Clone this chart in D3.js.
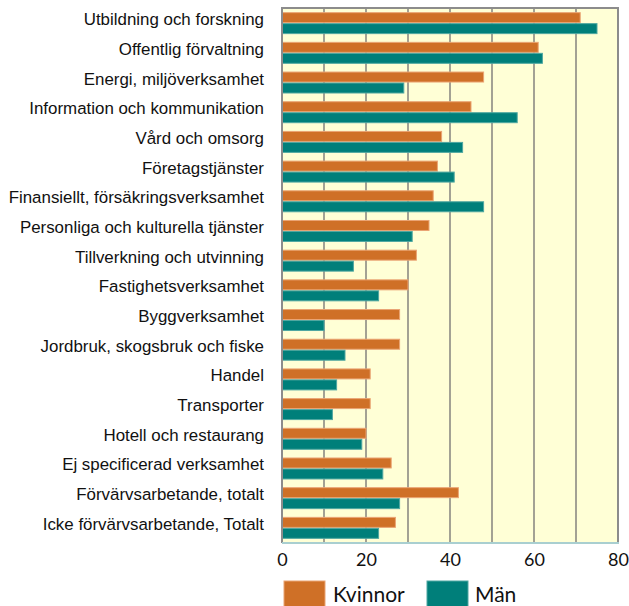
<!DOCTYPE html>
<html>
<head>
<meta charset="utf-8">
<script src="https://cdn.jsdelivr.net/npm/d3@7/dist/d3.min.js"></script>
<style>
  html, body { margin: 0; padding: 0; background: #ffffff; }
  svg { display: block; }
</style>
</head>
<body>
<svg id="chart" width="629" height="606"></svg>
<script>
// Share (%) per branch, women and men
const categories = [
  "Utbildning och forskning",
  "Offentlig förvaltning",
  "Energi, miljöverksamhet",
  "Information och kommunikation",
  "Vård och omsorg",
  "Företagstjänster",
  "Finansiellt, försäkringsverksamhet",
  "Personliga och kulturella tjänster",
  "Tillverkning och utvinning",
  "Fastighetsverksamhet",
  "Byggverksamhet",
  "Jordbruk, skogsbruk och fiske",
  "Handel",
  "Transporter",
  "Hotell och restaurang",
  "Ej specificerad verksamhet",
  "Förvärvsarbetande, totalt",
  "Icke förvärvsarbetande, Totalt"
];
const kvinnor = [71, 61, 48, 45, 38, 37, 36, 35, 32, 30, 28, 28, 21, 21, 20, 26, 42, 27];
const man     = [75, 62, 29, 56, 43, 41, 48, 31, 17, 23, 10, 15, 13, 12, 19, 24, 28, 23];
const seriesNames = ["Kvinnor", "Män"];
const xTicks = [0, 20, 40, 60, 80];
const gridValues = [10, 20, 30, 40, 50, 60, 70];

const colors = { Kvinnor: "#cf7027", "Män": "#007f7a" };
const edges  = { Kvinnor: "#eaa474", "Män": "#4fa7a1" };

const svg = d3.select("#chart");
const plot = { left: 282, right: 618, top: 8, bottom: 543 };

const x = d3.scaleLinear().domain([0, 80]).range([plot.left, plot.right]);
const y = d3.scaleBand().domain(categories).range([plot.top, plot.bottom])
  .paddingInner(0.26).paddingOuter(0.14);
const ySub = d3.scaleBand().domain(seriesNames).range([0, y.bandwidth()]);

// Plot background
svg.append("rect")
  .attr("x", plot.left).attr("y", plot.top)
  .attr("width", plot.right - plot.left).attr("height", plot.bottom - plot.top)
  .attr("fill", "#ffffd6");

// Vertical grid lines
svg.append("g").selectAll("line").data(gridValues).join("line")
  .attr("x1", d => x(d)).attr("x2", d => x(d))
  .attr("y1", plot.top).attr("y2", plot.bottom)
  .attr("stroke", "#a3a294").attr("stroke-width", 2);

// Bars
const rows = categories.map((c, i) => ({ c, values: [
  { s: "Kvinnor", v: kvinnor[i] }, { s: "Män", v: man[i] }
]}));

const groups = svg.append("g").selectAll("g").data(rows).join("g")
  .attr("transform", d => `translate(0,${y(d.c)})`);

groups.selectAll("rect").data(d => d.values).join("rect")
  .attr("x", x(0) + 0.5)
  .attr("y", d => ySub(d.s) + 0.5)
  .attr("width", d => x(d.v) - x(0) - 0.5)
  .attr("height", ySub.bandwidth() - 1)
  .attr("fill", d => colors[d.s])
  .attr("stroke", d => edges[d.s])
  .attr("stroke-width", 1);

// Frame: gray on left, top, right; pale blue along the bottom
svg.append("path")
  .attr("d", `M${plot.left},${plot.bottom} V${plot.top} H${plot.right} V${plot.bottom}`)
  .attr("fill", "none").attr("stroke", "#8c8c8c").attr("stroke-width", 2);
svg.append("line")
  .attr("x1", plot.left).attr("x2", plot.right + 1)
  .attr("y1", plot.bottom).attr("y2", plot.bottom)
  .attr("stroke", "#a9cfd0").attr("stroke-width", 2);

// Category labels
svg.append("g").selectAll("text").data(categories).join("text")
  .attr("x", 264)
  .attr("y", d => y(d) + y.bandwidth() / 2 + 2)
  .attr("text-anchor", "end")
  .style("font-family", "'Liberation Sans', Arial, sans-serif")
  .style("font-size", "16.9px")
  .attr("fill", "#111")
  .text(d => d);

// X axis tick labels
const xAxis = d3.axisBottom(x).tickValues(xTicks).tickSize(0).tickPadding(10);
const ax = svg.append("g").attr("transform", `translate(0,${plot.bottom})`).call(xAxis);
ax.select(".domain").remove();
ax.selectAll("text")
  .attr("font-family", "Lato, sans-serif")
  .attr("font-size", 18)
  .attr("fill", "#111");

// Legend
const legend = svg.append("g");
const legendItems = [
  { s: "Kvinnor", rx: 284, tx: 333 },
  { s: "Män", rx: 427, tx: 475 }
];
legend.selectAll("rect").data(legendItems).join("rect")
  .attr("x", d => d.rx).attr("y", 581)
  .attr("width", 41).attr("height", 30)
  .attr("fill", d => colors[d.s])
  .attr("stroke", d => edges[d.s]).attr("stroke-width", 1);
legend.selectAll("text").data(legendItems).join("text")
  .attr("x", d => d.tx).attr("y", 602)
  .attr("font-family", "Lato, sans-serif")
  .attr("font-size", 21)
  .attr("fill", "#111")
  .text(d => d.s);
</script>
</body>
</html>
